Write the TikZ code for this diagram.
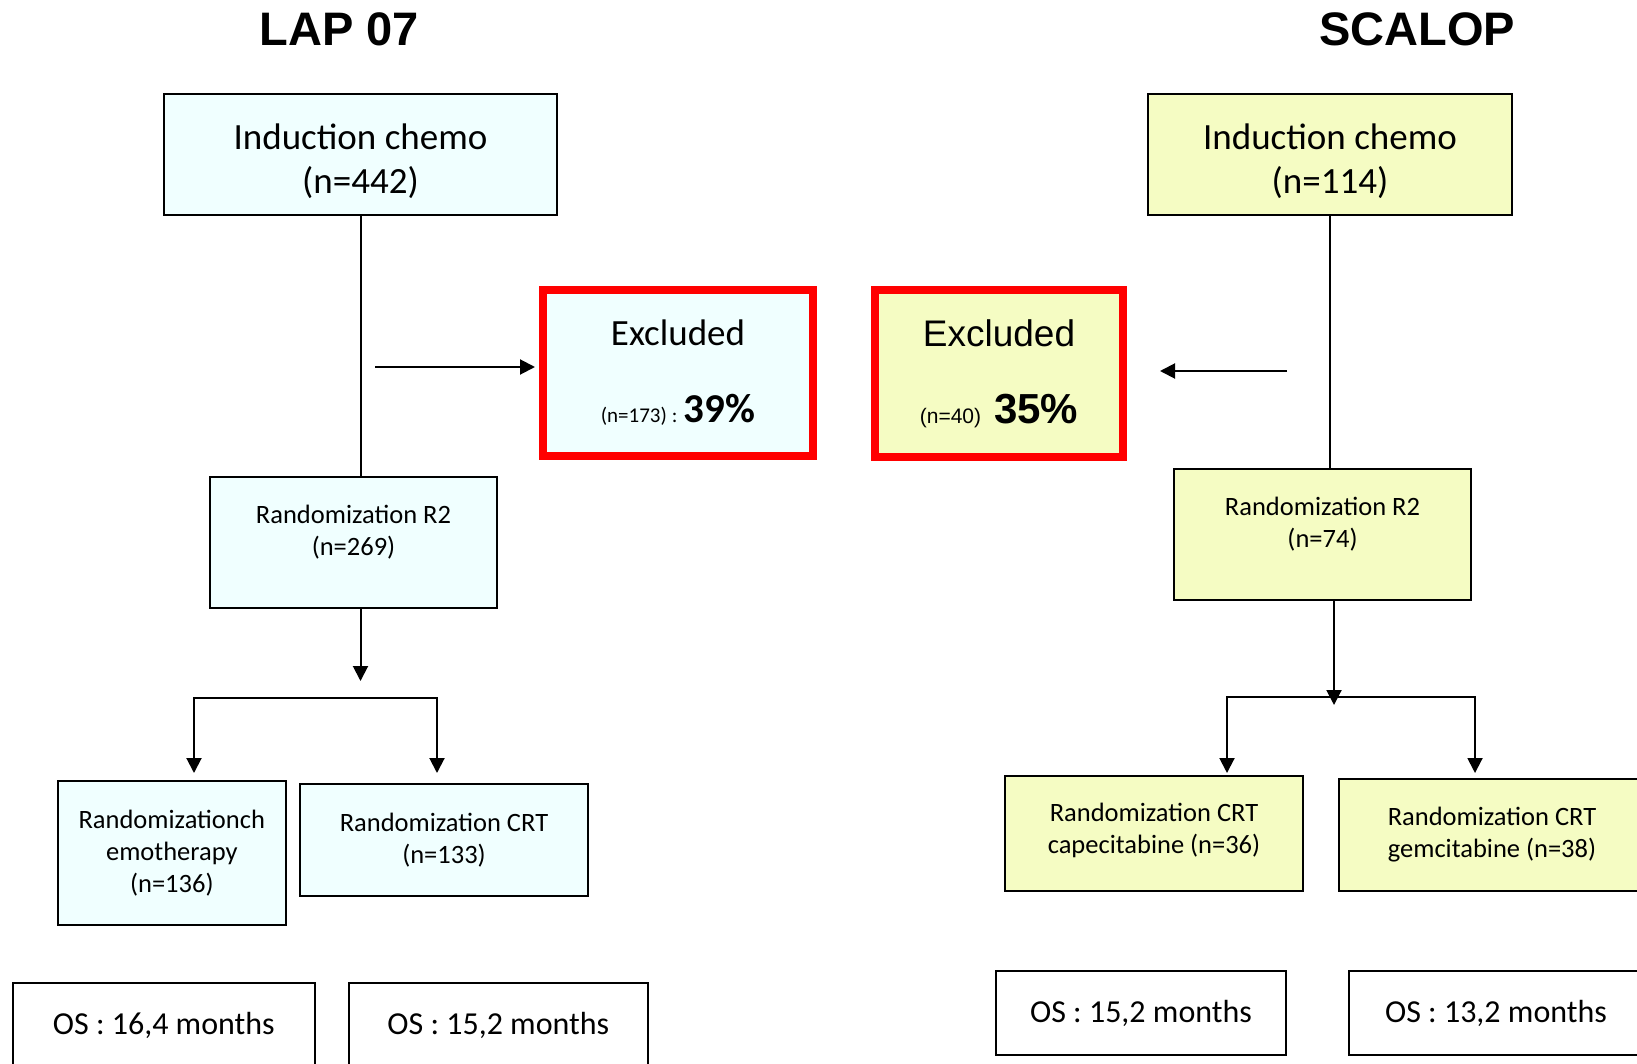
\documentclass[tikz,border=0pt]{standalone}
\usepackage{fontspec}
\setmainfont{Carlito}
\newfontfamily\arialfont{Liberation Sans}
\usepackage{xcolor}
\usetikzlibrary{arrows.meta,positioning}
\definecolor{lapfill}{HTML}{F0FFFF}
\definecolor{scalopfill}{HTML}{F5FCC3}
\tikzset{
  trial/.style={
    x=1pt,y=-1pt,line width=2pt,
    >={Triangle[length=15pt,width=15pt]}
  },
  block/.style={draw,rectangle,align=center,inner sep=0pt,
    font=\fontsize{26.5}{32}\selectfont},
  lap/.style={block,fill=lapfill},
  scalop/.style={block,fill=scalopfill},
  induction/.style={font=\fontsize{37}{44}\selectfont},
  excluded/.style={draw=red,line width=8pt,align=center,inner sep=0pt,
    font=\fontsize{37}{77}\selectfont},
  outcome/.style={draw,rectangle,inner sep=0pt,fill=white,
    font=\fontsize{32}{38}\selectfont},
  heading/.style={anchor=base,font=\arialfont\bfseries\fontsize{47}{56}\selectfont}
}

\begin{document}
\begin{tikzpicture}[trial]
  \useasboundingbox (0,0) rectangle (1637,1064);
  % titles
  \node[heading] (lapT) at (339.5,46) {LAP 07};
  \node[heading] (scalopT) at (1417,46) {SCALOP};

  % LAP 07
  \node[lap,induction,minimum width=393pt,minimum height=121pt] (indL) at (360.5,154.5) {\mbox{}\\[-4pt]Induction chemo\\(n=442)};
  \node[excluded,fill=lapfill,minimum width=270pt,minimum height=166pt] (exclL) at (678,373) {Excluded\\{\fontsize{21}{25}\selectfont (n=173) : }{\bfseries\fontsize{41}{77}\selectfont 39\%}};
  \node[lap,minimum width=287pt,minimum height=131pt] (r2L) at (353.5,542.5) {Randomization R2\\(n=269)\\[-8pt]\mbox{}};
  \node[lap,minimum width=227.5pt,minimum height=144pt] (chemoL) at (171.8,853) {Randomizationch\\emotherapy\\(n=136)};
  \node[lap,minimum width=288pt,minimum height=112pt] (crtL) at (444,840) {Randomization CRT\\(n=133)};
  \node[outcome,minimum width=302.5pt,minimum height=85pt] (osL1) at (163.8,1025.5) {OS : 16,4 months};
  \node[outcome,minimum width=299.5pt,minimum height=85pt] (osL2) at (498.3,1025.5) {OS : 15,2 months};

  % SCALOP
  \node[scalop,induction,minimum width=364pt,minimum height=121pt] (indR) at (1330,154.5) {\mbox{}\\[-4pt]Induction chemo\\(n=114)};
  \node[excluded,fill=scalopfill,font=\arialfont\fontsize{37}{77}\selectfont,minimum width=248pt,minimum height=167pt] (exclR) at (999,373.5) {Excluded\\{\fontsize{21}{25}\selectfont (n=40)}\hspace{13pt}{\bfseries\fontsize{42}{77}\selectfont 35\%}};
  \node[scalop,minimum width=297pt,minimum height=131.5pt] (r2R) at (1322.5,534.3) {Randomization R2\\(n=74)\\[-8pt]\mbox{}};
  \node[scalop,minimum width=298pt,minimum height=115pt] (capB) at (1154,833.5) {Randomization CRT\\capecitabine (n=36)\\[-21pt]\mbox{}};
  \node[scalop,minimum width=306pt,minimum height=112pt] (gemB) at (1492,835) {Randomization CRT\\gemcitabine (n=38)};
  \node[outcome,minimum width=290pt,minimum height=84pt] (osR1) at (1141,1013) {OS : 15,2 months};
  \node[outcome,minimum width=294pt,minimum height=84pt] (osR2) at (1496,1013) {OS : 13,2 months};

  % free ends of the connectors
  \coordinate (exL) at (375,367);
  \coordinate (forkL) at (360.5,698);
  \coordinate (brL1) at (194,698);
  \coordinate (brL2) at (437,698);
  \coordinate (exR) at (1287,371);
  \coordinate (forkR) at (1334,697);
  \coordinate (brR1) at (1227,697);
  \coordinate (brR2) at (1475,697);

  \draw (indL.south) -- (indL.south |- r2L.north);
  \draw[->,shorten >=4pt] (exL) -- (exL -| exclL.west);
  \draw[->,shorten >=17pt] (r2L.south -| forkL) -- (forkL);
  \draw[<->,shorten <=7pt,shorten >=10pt] (brL1 |- chemoL.north) -- (brL1) -- (brL2) -- (brL2 |- crtL.north);

  \draw (indR.south) -- (indR.south |- r2R.north);
  \draw[->,shorten >=33pt] (exR) -- (exR -| exclR.east);
  \draw[<->,shorten <=2pt,shorten >=5pt] (brR1 |- capB.north) -- (brR1) -- (brR2) -- (brR2 |- gemB.north);
  \draw[->,shorten >=-8pt] (r2R.south -| forkR) -- (forkR);
\end{tikzpicture}
\end{document}
